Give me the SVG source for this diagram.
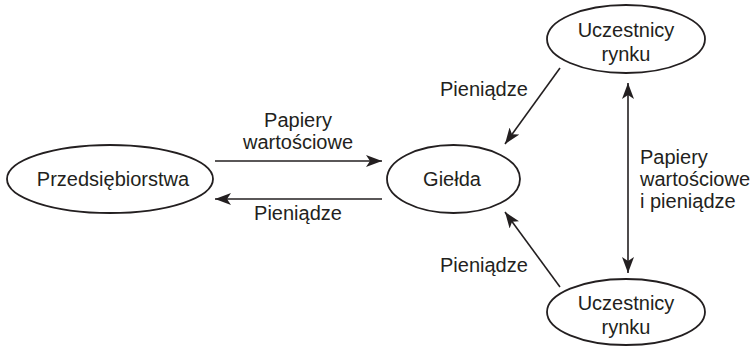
<svg xmlns="http://www.w3.org/2000/svg" width="755" height="346" viewBox="0 0 755 346">
<style>
.node ellipse{fill:#fff;stroke:#231f20;stroke-width:1.8}
text{font-family:"Liberation Sans",Arial,sans-serif;font-size:20px;fill:#231f20}
.c{text-anchor:middle}
.edges path{fill:none;stroke:#231f20;stroke-width:1.6}
</style>
<defs>
<marker id="ah" markerUnits="userSpaceOnUse" viewBox="0 0 16 12" refX="16" refY="6" markerWidth="16" markerHeight="12" orient="auto-start-reverse">
<path d="M0,0 L16,6 L0,12 L4,6 Z" fill="#231f20"/>
</marker>
</defs>
<rect width="755" height="346" fill="#fff"/>
<g class="edges">
<path d="M215,161 L382,161" marker-end="url(#ah)"/>
<path d="M382,199 L215,199" marker-end="url(#ah)"/>
<path d="M560,68 L505,144" marker-end="url(#ah)"/>
<path d="M560,287 L505,212" marker-end="url(#ah)"/>
<path d="M628,83 L628,273" marker-start="url(#ah)" marker-end="url(#ah)"/>
</g>
<g class="labels">
<text class="c" x="298" y="127">Papiery</text>
<text class="c" x="298" y="149">wartościowe</text>
<text class="c" x="298" y="220">Pieniądze</text>
<text x="440" y="96">Pieniądze</text>
<text x="440" y="272">Pieniądze</text>
<text x="640" y="164">Papiery</text>
<text x="640" y="186">wartościowe</text>
<text x="640" y="208">i pieniądze</text>
</g>
<g id="przedsiebiorstwa" class="node">
<ellipse cx="110" cy="179" rx="103" ry="34"/>
<text class="c" x="113" y="186">Przedsiębiorstwa</text>
</g>
<g id="gielda" class="node">
<ellipse cx="453.5" cy="179" rx="66.5" ry="34"/>
<text class="c" x="452" y="186">Giełda</text>
</g>
<g id="uczestnicy-gora" class="node">
<ellipse cx="626" cy="39" rx="79" ry="34"/>
<text class="c" x="626" y="37">Uczestnicy</text>
<text class="c" x="626" y="61">rynku</text>
</g>
<g id="uczestnicy-dol" class="node">
<ellipse cx="626" cy="312" rx="79" ry="33"/>
<text class="c" x="626" y="310">Uczestnicy</text>
<text class="c" x="626" y="334">rynku</text>
</g>
</svg>
